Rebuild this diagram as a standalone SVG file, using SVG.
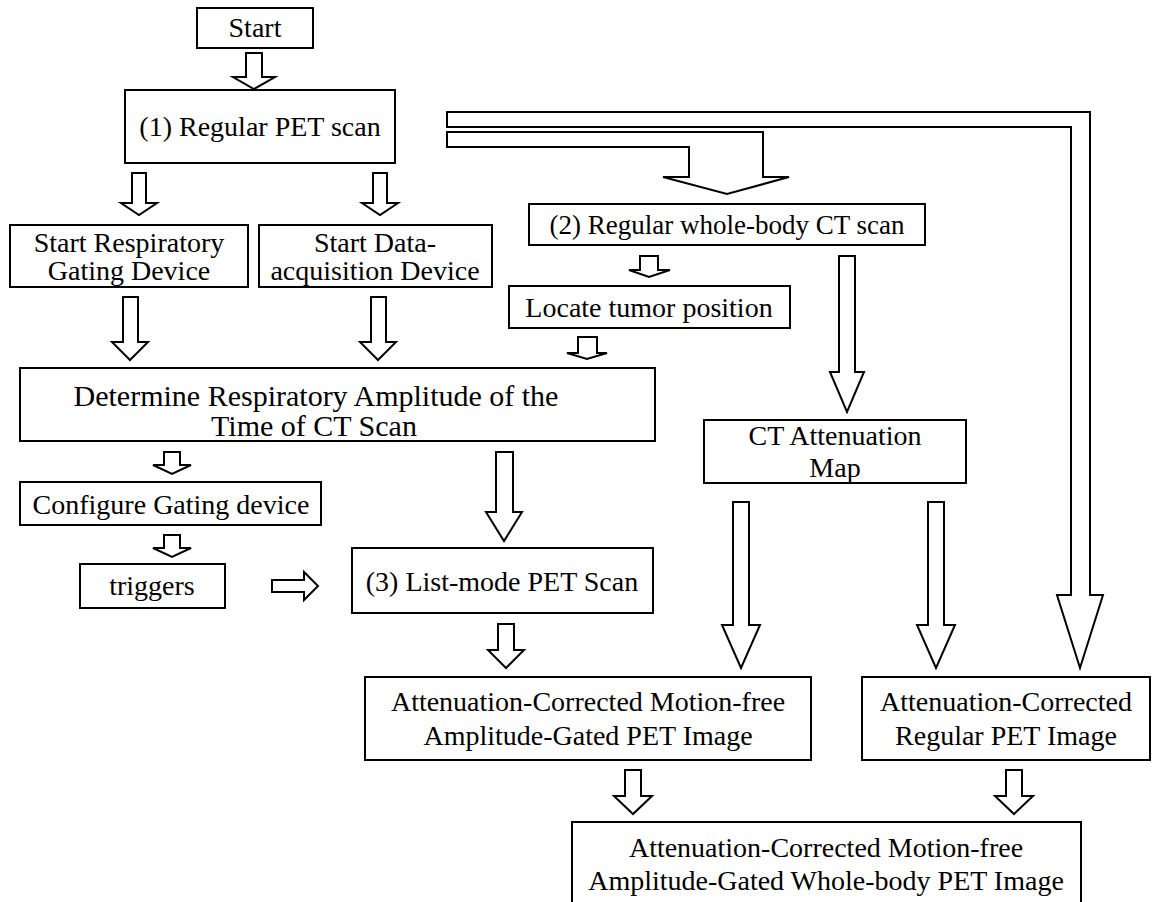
<svg xmlns="http://www.w3.org/2000/svg" width="1162" height="902" viewBox="0 0 1162 902">
<style>
.box{fill:#fff;stroke:#000;stroke-width:2}
.arr{fill:#fff;stroke:#000;stroke-width:2;stroke-linejoin:miter}
text{font-family:"Liberation Serif","Times New Roman",serif;font-size:28px;fill:#000;text-anchor:middle}
.big{font-size:30px}
.sm{font-size:27px}
</style>
<rect width="1162" height="902" fill="#fff"/>
<g id="connectors">
<polygon class="arr" points="246,53 262,53 262,77 275,77 254,89 233,77 246,77"/>
<polygon class="arr" points="132,173 146,173 146,203 157,203 139,215 121,203 132,203"/>
<polygon class="arr" points="373,173 387,173 387,203 398,203 380,215 362,203 373,203"/>
<polygon class="arr" points="447,112 1090,112 1090,595 1103,595 1080,668 1057,595 1071,595 1071,127 447,127"/>
<polygon class="arr" points="447,132 763,132 763,177 789,177 727,194 663,177 689,177 689,147 447,147"/>
<polygon class="arr" points="640,256 658,256 658,270 670,270 649,277 629,270 640,270"/>
<polygon class="arr" points="839,256 855,256 855,372 864,372 847,412 830,372 839,372"/>
<polygon class="arr" points="123,297 138,297 138,342 148,342 130,360 112,342 123,342"/>
<polygon class="arr" points="371,297 386,297 386,342 396,342 378,360 360,342 371,342"/>
<polygon class="arr" points="578,337 597,337 597,353 607,353 587,359 567,353 578,353"/>
<polygon class="arr" points="164,452 180,452 180,465 191,465 172,474 153,465 164,465"/>
<polygon class="arr" points="164,535 180,535 180,548 191,548 172,557 153,548 164,548"/>
<polygon class="arr" points="496,452 513,452 513,512 522,512 504,541 486,512 496,512"/>
<polygon class="arr" points="272,580 304,580 304,572 318,586 304,600 304,592 272,592"/>
<polygon class="arr" points="498,624 514,624 514,650 524,650 506,668 488,650 498,650"/>
<polygon class="arr" points="733,502 749,502 749,625 760,625 741,668 722,625 733,625"/>
<polygon class="arr" points="928,502 944,502 944,625 955,625 936,668 917,625 928,625"/>
<polygon class="arr" points="625,770 641,770 641,796 652,796 633,814 614,796 625,796"/>
<polygon class="arr" points="1006,770 1022,770 1022,796 1033,796 1014,814 995,796 1006,796"/>
</g>
<g id="start"><rect class="box" x="197" y="8" width="116" height="40"/><text x="255" y="37">Start</text></g>
<g id="pet1"><rect class="box" x="125" y="90" width="270" height="73"/><text x="260" y="136">(1) Regular PET scan</text></g>
<g id="resp"><rect class="box" x="10" y="225" width="238" height="62"/><text x="129" y="252">Start Respiratory</text><text x="129" y="280">Gating Device</text></g>
<g id="daq"><rect class="box" x="259" y="225" width="233" height="62"/><text x="375" y="252">Start Data-</text><text x="375" y="280">acquisition Device</text></g>
<g id="ct"><rect class="box" x="529" y="204" width="396" height="41"/><text class="sm" x="727" y="234">(2) Regular whole-body CT scan</text></g>
<g id="tumor"><rect class="box" x="509" y="286" width="281" height="42"/><text x="649" y="317">Locate tumor position</text></g>
<g id="determine"><rect class="box" x="20" y="368" width="635" height="73"/><text class="big" x="316" y="406">Determine Respiratory Amplitude of the</text><text class="big" x="314" y="436">Time of CT Scan</text></g>
<g id="ctmap"><rect class="box" x="704" y="420" width="262" height="63"/><text x="835" y="445">CT Attenuation</text><text x="835" y="477">Map</text></g>
<g id="config"><rect class="box" x="20" y="482" width="301" height="43"/><text x="171" y="514">Configure Gating device</text></g>
<g id="triggers"><rect class="box" x="80" y="564" width="145" height="44"/><text x="152" y="595">triggers</text></g>
<g id="listmode"><rect class="box" x="352" y="548" width="301" height="65"/><text x="502" y="591">(3) List-mode PET Scan</text></g>
<g id="acgated"><rect class="box" x="365" y="677" width="446" height="83"/><text x="588" y="711">Attenuation-Corrected Motion-free</text><text x="588" y="745">Amplitude-Gated PET Image</text></g>
<g id="acregular"><rect class="box" x="862" y="677" width="288" height="83"/><text x="1006" y="711">Attenuation-Corrected</text><text x="1006" y="745">Regular PET Image</text></g>
<g id="final"><rect class="box" x="572" y="822" width="509" height="90"/><text x="826" y="857">Attenuation-Corrected Motion-free</text><text x="826" y="890">Amplitude-Gated Whole-body PET Image</text></g>
</svg>
